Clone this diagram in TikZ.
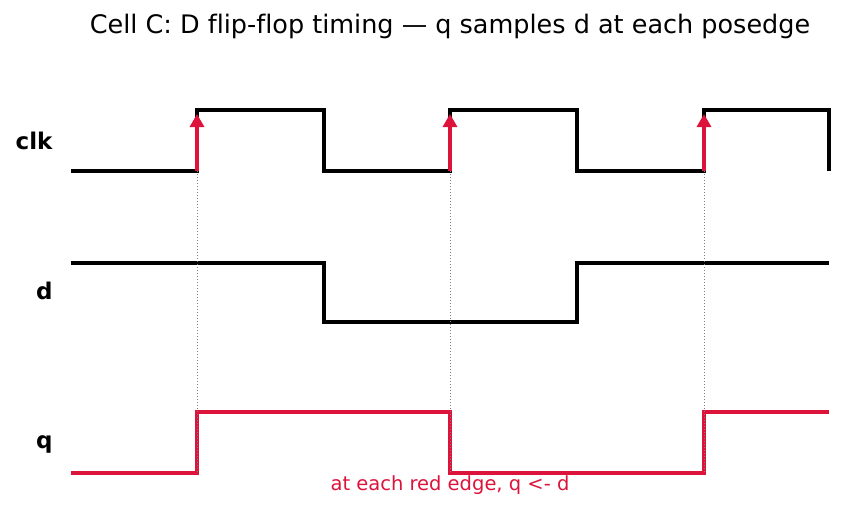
\documentclass[tikz,border=0pt]{standalone}
\usepackage{fontspec}
\setmainfont[Ligatures=NoCommon]{DejaVu Sans}
\usetikzlibrary{arrows.meta}
\definecolor{crim}{RGB}{220,20,60}
\begin{document}
\begin{tikzpicture}[x=1pt,y=-1pt,
  wave/.style={line width=3.5pt, line join=miter},
  qwave/.style={wave, draw=crim},
  guide/.style={draw=gray, line width=1pt, dash pattern=on 1.2pt off 1.8pt},
  edgearrow/.style={draw=crim, line width=3.2pt, -{Triangle[length=13pt,width=14pt]}},
  siglabel/.style={anchor=east, font=\fontsize{23}{26}\selectfont\bfseries},
  titlefont/.style={font=\fontsize{25.5}{29}\selectfont},
  notefont/.style={font=\fontsize{19.5}{22}\selectfont, text=crim}]
\useasboundingbox (0,0) rectangle (844,512);
\fill[white] (0,0) rectangle (844,512);
% title
\node[titlefont] (title) at (450,26) {Cell C: D flip-flop timing — q samples d at each posedge};
% labels
\node[siglabel] (lclk) at (56,141) {clk};
\node[siglabel] (ld) at (56,291) {d};
\node[siglabel] (lq) at (56,444) {q};
% clk
\draw[wave] (71,171) -- (197,171) -- (197,110) -- (324,110) -- (324,171) -- (450,171) -- (450,110) -- (577,110) -- (577,171) -- (704,171) -- (704,110) -- (829,110) -- (829,171);
% d
\draw[wave] (71,263) -- (324,263) -- (324,322) -- (577,322) -- (577,263) -- (829,263);
% q
\draw[qwave] (71,473) -- (197,473) -- (197,412) -- (450,412) -- (450,473) -- (704,473) -- (704,412) -- (829,412);
% guides and edge arrows
\foreach \x/\n in {197/a,450/b,704/c}{
  \coordinate (top\n) at (\x,171);
  \coordinate (bot\n) at (\x,473);
  \coordinate (tip\n) at (\x,114);
  \draw[guide] (top\n) -- (bot\n);
  \draw[edgearrow] (top\n) -- (tip\n);
}
\node[notefont] (note) at (450,485) {at each red edge, q <- d};
\end{tikzpicture}
\end{document}
